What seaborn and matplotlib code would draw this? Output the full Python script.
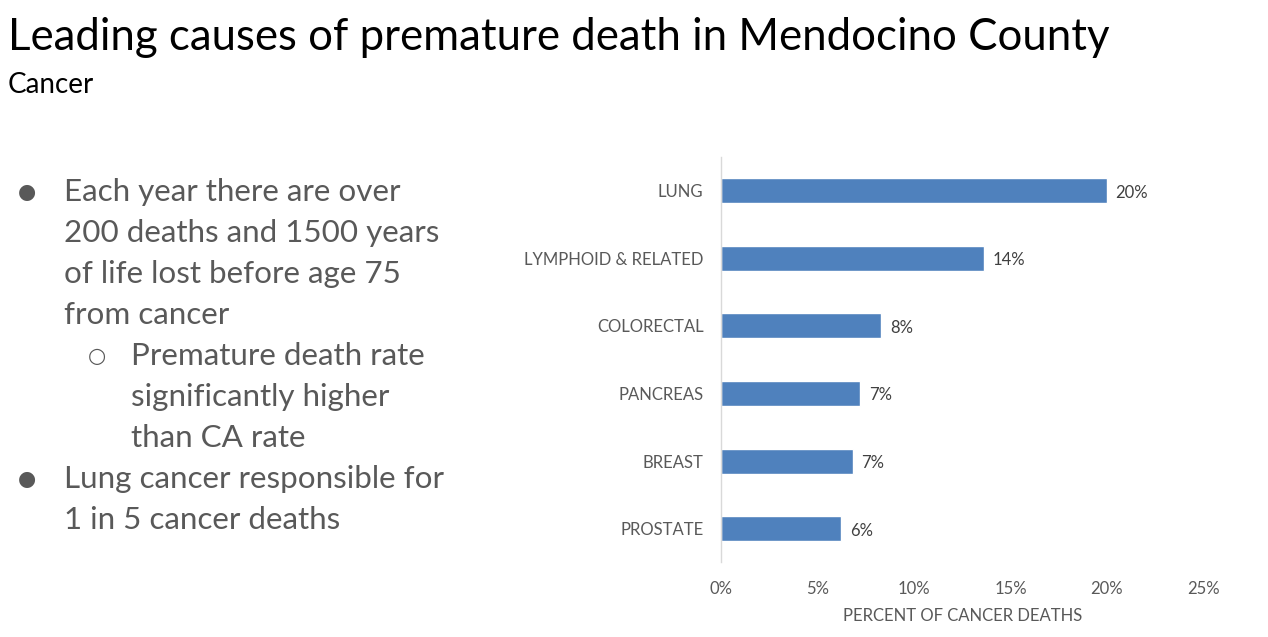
import matplotlib
matplotlib.use("Agg")
import matplotlib.pyplot as plt
import pandas as pd
import seaborn as sns

causes = ["LUNG", "LYMPHOID & RELATED", "COLORECTAL", "PANCREAS", "BREAST", "PROSTATE"]
percent = [20.0, 13.6, 8.3, 7.2, 6.8, 6.2]
bar_labels = ["20%", "14%", "8%", "7%", "7%", "6%"]
x_ticks = [0, 5, 10, 15, 20, 25]
x_tick_labels = ["0%", "5%", "10%", "15%", "20%", "25%"]

bullets = [
    (0, ["Each year there are over", "200 deaths and 1500 years",
         "of life lost before age 75", "from cancer"]),
    (1, ["Premature death rate", "significantly higher", "than CA rate"]),
    (0, ["Lung cancer responsible for", "1 in 5 cancer deaths"]),
]

sns.set_style("white")
plt.rcParams['font.family'] = ['Lato', 'DejaVu Sans']

df = pd.DataFrame({"cause": causes, "percent": percent})

fig = plt.figure(figsize=(12.68, 6.37), dpi=100)
ax = fig.add_axes([0.569, 0.117, 0.38, 0.637])

sns.barplot(data=df, x="percent", y="cause", color="#4f81bd", saturation=1,
            width=0.37, ax=ax)

for patch, lab in zip(ax.patches, bar_labels):
    ax.text(patch.get_width() + 0.45, patch.get_y() + patch.get_height() / 2 + 0.03,
            lab, va="center", ha="left", fontsize=12, color="#404040")

ax.set_xlim(0, 25)
ax.set_xticks(x_ticks)
ax.set_xticklabels(x_tick_labels, fontsize=12, color="#595959")
ax.tick_params(axis="x", length=0, pad=13)
ax.tick_params(axis="y", length=0, pad=13, labelsize=12, labelcolor="#595959")
ax.set_ylabel("")
ax.set_xlabel("PERCENT OF CANCER DEATHS", fontsize=12, color="#595959", labelpad=8)
for side in ["top", "right", "bottom"]:
    ax.spines[side].set_visible(False)
ax.spines["left"].set_color("#d9d9d9")
ax.spines["left"].set_linewidth(1)

fig.text(8 / 1268, 1 - 38 / 637, "Leading causes of premature death in Mendocino County",
         fontsize=31.5, color="black", va="center", ha="left")
fig.text(8 / 1268, 1 - 85 / 637, "Cancer", fontsize=20, color="black", va="center", ha="left")

y = 192
for level, lines in bullets:
    bx = 18 if level == 0 else 88
    tx = 64 if level == 0 else 131
    mark = "●" if level == 0 else "○"
    fig.text(bx / 1268, 1 - y / 637, mark, fontsize=15, color="#595959",
             va="center", ha="left", family=['DejaVu Sans'])
    for line in lines:
        fig.text(tx / 1268, 1 - y / 637, line, fontsize=22.6, color="#595959",
                 va="center", ha="left")
        y += 41

fig.savefig("out.png", dpi=100)
